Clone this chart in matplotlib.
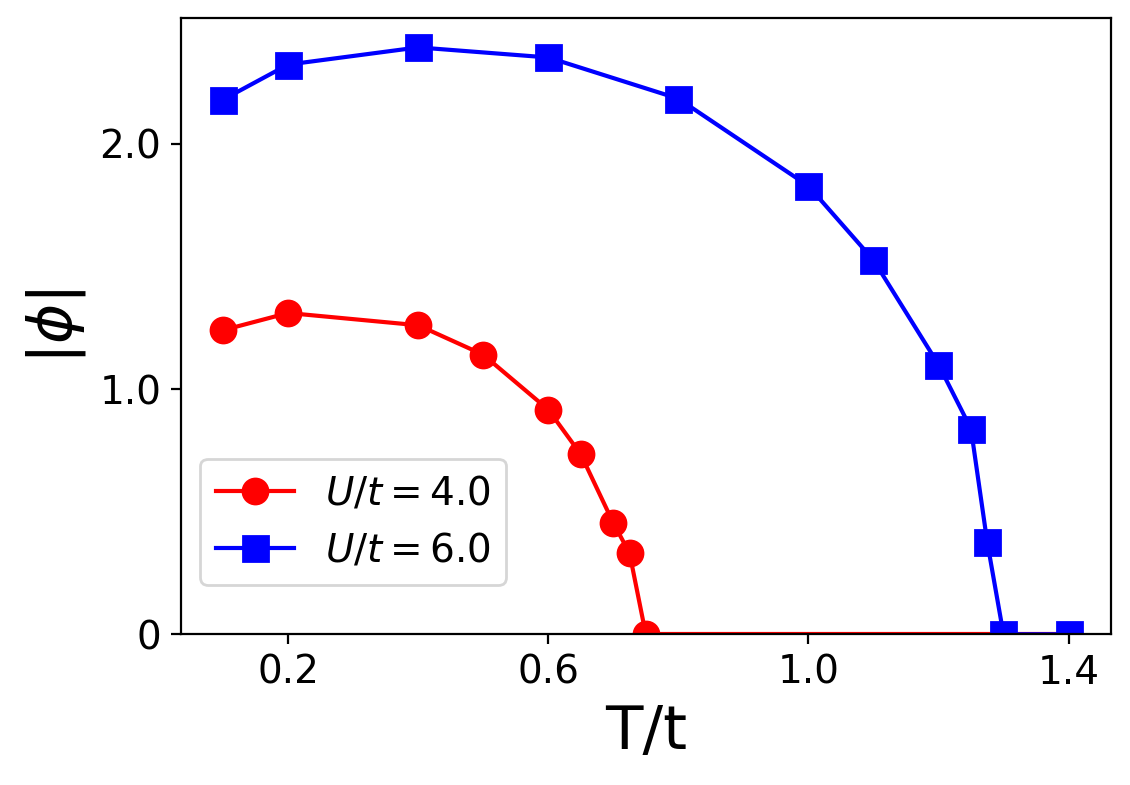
import matplotlib.pyplot as plt

# U/t = 4.0
T_u4 = [0.1, 0.2, 0.4, 0.5, 0.6, 0.65, 0.7, 0.725, 0.75]
phi_u4 = [1.24, 1.31, 1.26, 1.14, 0.916, 0.734, 0.454, 0.331, 0.0]
T_u4_tail = [0.75, 1.4]
phi_u4_tail = [0.0, 0.0]

# U/t = 6.0
T_u6 = [0.1, 0.2, 0.4, 0.6, 0.8, 1.0, 1.1, 1.2, 1.25, 1.275, 1.3, 1.4]
phi_u6 = [2.18, 2.323, 2.393, 2.352, 2.184, 1.828, 1.526, 1.10, 0.838, 0.376, 0.0, 0.0]

xticks = [0.2, 0.6, 1.0, 1.4]
yticks = [0, 1.0, 2.0]
ytick_labels = ['0', '1.0', '2.0']

fig = plt.figure(figsize=(5.65, 3.925), dpi=200)
ax = fig.add_axes([0.160, 0.192, 0.823, 0.785])

ax.plot(T_u4, phi_u4, color='red', marker='o', markersize=9, label=r'$U/t = 4.0$')
ax.plot(T_u4_tail, phi_u4_tail, color='red')
ax.plot(T_u6, phi_u6, color='blue', marker='s', markersize=9, label=r'$U/t = 6.0$')

ax.set_ylim(bottom=0)
ax.set_xticks(xticks)
ax.set_xticklabels([str(x) for x in xticks])
ax.set_yticks(yticks)
ax.set_yticklabels(ytick_labels)
ax.tick_params(labelsize=14)

ax.set_xlabel('T/t', fontsize=22)
ax.set_ylabel(r'$|\phi|$', fontsize=22)

ax.legend(fontsize=14, loc='lower left', bbox_to_anchor=(0, 0.048))

fig.savefig('out.png')
